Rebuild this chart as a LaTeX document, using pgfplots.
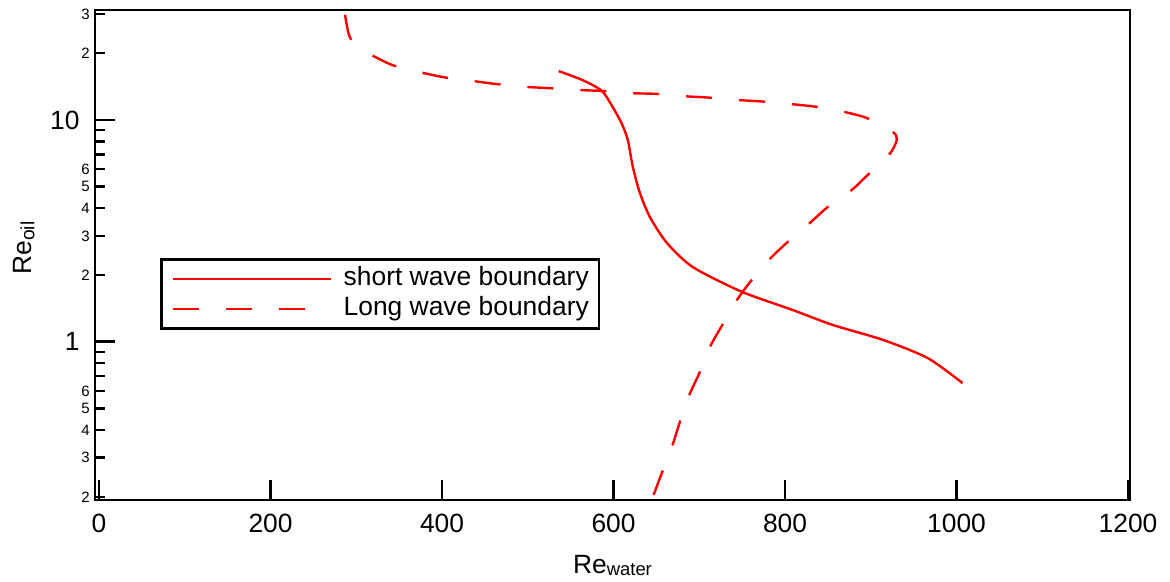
\documentclass[border=0pt]{standalone}
\usepackage{fontspec}
\setmainfont{Liberation Sans}
\usepackage{pgfplots}
\pgfplotsset{compat=1.18}
\begin{document}
\fontsize{13.2}{15.8}\selectfont
\begin{tikzpicture}
\begin{axis}[
  at={(0,0)}, anchor=south west,
  scale only axis, width=517.5pt, height=245pt,
  xmin=-4.7, xmax=1202.3,
  ymode=log, ymin=0.1935, ymax=31.3,
  axis line style={line width=1.3pt},
  every tick/.style={black, line width=1.25pt},
  tick align=inside,
  tick pos=left,
  major tick length=10pt,
  xtick={0,200,...,1200},
  ytick={1,10}, yticklabels={1,10},
  minor ytick={},
  extra y ticks={0.2,0.3,0.4,0.5,0.6,0.7,0.8,0.9,2,3,4,5,6,7,8,9,20,30},
  extra y tick labels={2,3,4,5,6,,,,2,3,4,5,6,,,,2,3},
  extra y tick style={major tick length=5pt, yticklabel style={font=\fontsize{7.5}{9}\selectfont, xshift=5pt}},
  xticklabel style={inner sep=0pt, anchor=north, yshift=-7pt},
  yticklabel style={inner sep=0pt, anchor=east, xshift=-7.5pt},
  tick label style={font=\fontsize{13.2}{15.8}\selectfont},
  /pgf/number format/assume math mode=true,
  /pgf/number format/set thousands separator={},
  xlabel={Re\raisebox{-1.2pt}{\fontsize{9.2}{10}\selectfont water}},
  xlabel style={at={(axis description cs:0.5,0)}, anchor=base, yshift=-36.5pt, font=\fontsize{13.2}{15.8}\selectfont},
  ylabel={Re\raisebox{-1.2pt}{\fontsize{9.6}{10}\selectfont oil}},
  ylabel style={at={(axis description cs:-0.0609,0.514)}, anchor=base, font=\fontsize{13.2}{15.8}\selectfont},
  legend style={at={(0.0628,0.494)}, anchor=north west, draw=black, line width=1.3pt,
    inner xsep=5pt, inner ysep=3pt, row sep=1.5pt, column sep=6pt,
    font=\fontsize{13.2}{15.8}\selectfont,
    nodes={inner sep=0pt, text height=10pt, text depth=3.5pt}},
  legend cell align=left,
  legend image code/.code={\draw[#1,line width=1.2pt] (0pt,0pt) -- (79pt,0pt);},
]
\addplot[red, line width=1.2pt, smooth, tension=0.45] coordinates {
(536,16.6) (564.2,15.1) (586.4,13.5) (599.2,11.4) (609.7,9.6) (616.7,8.1)
(622.5,6.14) (630.7,4.69) (642.4,3.65) (662.2,2.79) (692.5,2.17) (749.6,1.68)
(809,1.39) (855.7,1.19) (914,1.02) (966.4,0.844) (1007,0.651)
};
\addlegendentry{short wave boundary}
\addplot[red, line width=1.2pt, smooth, tension=0.45, dash pattern=on 13pt off 13.5pt] coordinates {
(286.8,29.8) (291.4,24.2) (298.4,21.8) (313.6,20.0) (341.6,17.7) (371.9,16.5) (401,15.6)
(434.8,15.0) (464,14.5) (496.6,14.1) (525.8,13.9) (557.2,13.65) (587.6,13.5)
(621.4,13.2) (650.5,13.1) (680.8,12.8) (712.3,12.6) (743.8,12.3) (774,12.1)
(805.5,11.8) (837,11.45) (867.3,10.9) (895.3,10.2) (925.6,8.83) (930.3,8.13)
(922.1,7.03) (898.8,5.77) (877.8,4.83) (849.8,4.05) (828.9,3.43) (803.2,2.82)
(782.2,2.36) (761.2,1.90) (743.8,1.54) (727.4,1.20) (712.3,0.946) (700.6,0.730)
(687.8,0.569) (677.3,0.434) (668,0.335) (656.3,0.256) (645.8,0.1995)
};
\addlegendentry{Long wave boundary}
\end{axis}
\pgfresetboundingbox
\path[use as bounding box] (-47.5pt,-41pt) rectangle (537.5pt,250pt);
\end{tikzpicture}
\end{document}
